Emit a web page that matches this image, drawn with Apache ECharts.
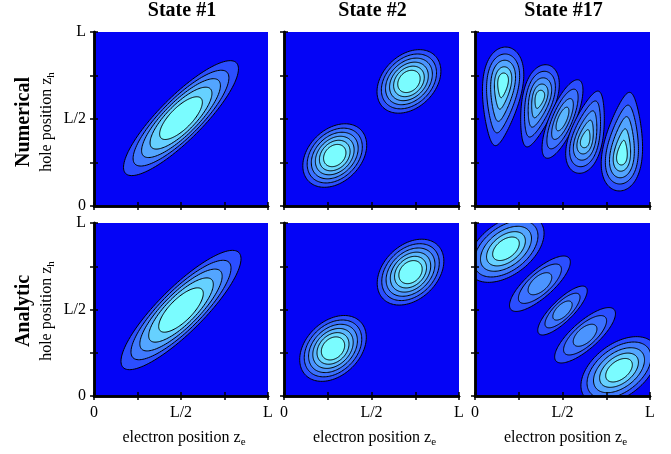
<!DOCTYPE html>
<html>
<head>
<meta charset="utf-8">
<script src="https://cdn.jsdelivr.net/npm/echarts/dist/echarts.min.js"></script>
<style>
  html, body { margin: 0; padding: 0; background: #fff; }
  #chart { width: 671px; height: 454px; }
</style>
</head>
<body>
<div id="chart"></div>
<script>
// titles and tick labels
var stateTitles = ['State #1', 'State #2', 'State #17'];
var rowTitles = ['Numerical', 'Analytic'];
var tickValues = [0, 0.5, 1];
var tickLabels = ['0', 'L/2', 'L'];

// ring sizes (major, minor) relative to the outer contour, outermost first
var ringsS1 = [[1, 1], [0.83, 0.88], [0.68, 0.76], [0.53, 0.64], [0.36, 0.5]];
var ringsS2 = [[1, 1], [0.86, 0.87], [0.73, 0.74], [0.6, 0.62], [0.47, 0.5], [0.34, 0.37]];
var ringsEnd = [[1, 1], [0.8, 0.8], [0.62, 0.6], [0.43, 0.42], [0.25, 0.26]];
var ringsMid = [[1, 1], [0.8, 0.8], [0.6, 0.61], [0.41, 0.43], [0.22, 0.26]];
var ringsCtr = [[1, 1], [0.76, 0.77], [0.52, 0.55], [0.3, 0.34]];
var ringsCorner = [[1, 1], [0.84, 0.84], [0.67, 0.67], [0.51, 0.51], [0.35, 0.35]];
var ringsSide = [[1, 1], [0.7, 0.78], [0.37, 0.55]];

// contour blobs, in units of L:
// [cx, cy, semi-major, semi-minor, angle(deg), egg, ring shift, rings, top level]
var numState1 = [
    [0.50, 0.505, 0.45, 0.125, 45, 0, 0, ringsS1, 5]
];
var numState2 = [
    [0.29, 0.29, 0.21, 0.15, 45, 0, 0, ringsS2, 5],
    [0.714, 0.716, 0.21, 0.15, 45, 0, 0, ringsS2, 5]
];
var numState17 = [
    [0.15, 0.63, 0.285, 0.108, 83, 0.4, 0.085, ringsEnd, 5],
    [0.357, 0.575, 0.243, 0.093, 75, 0.35, 0.05, ringsMid, 4],
    [0.50, 0.50, 0.243, 0.074, 67, 0, 0, ringsCtr, 3],
    [0.643, 0.425, 0.243, 0.093, 75, -0.35, -0.05, ringsMid, 4],
    [0.85, 0.37, 0.285, 0.108, 83, -0.4, -0.085, ringsEnd, 5]
];
var anaState1 = [
    [0.50, 0.497, 0.47, 0.13, 45, 0, 0, ringsS1, 5]
];
var anaState2 = [
    [0.28, 0.275, 0.22, 0.155, 45, 0, 0, ringsS2, 5],
    [0.723, 0.716, 0.22, 0.155, 45, 0, 0, ringsS2, 5]
];
var anaState17 = [
    [0.177, 0.851, 0.25, 0.15, 38, 0, 0, ringsCorner, 5],
    [0.371, 0.649, 0.223, 0.078, 42, 0, 0, ringsSide, 2],
    [0.50, 0.494, 0.19, 0.062, 45, 0, 0, ringsSide, 2],
    [0.629, 0.351, 0.223, 0.078, 42, 0, 0, ringsSide, 2],
    [0.823, 0.149, 0.25, 0.15, 38, 0, 0, ringsCorner, 5]
];
var panels = [numState1, numState2, numState17, anaState1, anaState2, anaState17];

var bgBlue = '#0404f6';
var lowColor = [43, 78, 255];
var highColor = [122, 252, 255];
var serif = '"Liberation Serif", "Times New Roman", serif';

var colLeft = [94, 284, 475];
var colWidth = [174, 175, 175];
var rowTop = [32, 223];
var rowHeight = [174, 173];

function levelColor(k) {
    var f = k / 5;
    var c = [];
    for (var i = 0; i < 3; i++) {
        c.push(Math.round(lowColor[i] + (highColor[i] - lowColor[i]) * f));
    }
    return 'rgb(' + c.join(',') + ')';
}

function tickFmt(v) {
    var i = tickValues.indexOf(v);
    return i < 0 ? '' : tickLabels[i];
}

function makeSeries(p, blobs) {
    var items = [];
    blobs.forEach(function (b, bi) {
        b[7].forEach(function (s, ri) { items.push([bi, ri]); });
    });
    return {
        type: 'custom', xAxisIndex: 2 * p, yAxisIndex: 2 * p,
        data: items, clip: true, silent: true, z: 2,
        renderItem: function (params, api) {
            var bl = blobs[api.value(0)], ri = api.value(1);
            var cx = bl[0], cy = bl[1], a = bl[2], b = bl[3];
            var th = bl[4] * Math.PI / 180, egg = bl[5], shift = bl[6];
            var rings = bl[7], top = bl[8];
            var sa = rings[ri][0], sb = rings[ri][1];
            var c = Math.cos(th), s = Math.sin(th);
            var ox = cx + shift * (1 - sa) * c, oy = cy + shift * (1 - sa) * s;
            var pts = [];
            for (var k = 0; k < 120; k++) {
                var t = k / 120 * 2 * Math.PI;
                var u = sa * a * Math.cos(t);
                var v = sb * b * Math.sin(t) * (1 + egg * Math.cos(t));
                pts.push(api.coord([ox + u * c - v * s, oy + u * s + v * c]));
            }
            var col = rings.length > 1 ? top * ri / (rings.length - 1) : 0;
            return {
                type: 'polygon', shape: { points: pts },
                style: { fill: levelColor(col), stroke: '#000', lineWidth: 1 }
            };
        }
    };
}

var grids = [], xAxes = [], yAxes = [], series = [], graphics = [];

for (var p = 0; p < 6; p++) {
    var r = Math.floor(p / 3), c = p % 3;
    grids.push({
        left: colLeft[c], top: rowTop[r], width: colWidth[c], height: rowHeight[r],
        show: true, backgroundColor: bgBlue, borderWidth: 0
    });
    var tick = { show: true, inside: true, length: 4, lineStyle: { color: '#000', width: 1.5 } };
    var line = { show: true, lineStyle: { color: '#000', width: 2.5 } };
    var lbl = { fontFamily: serif, fontSize: 16, color: '#000', formatter: tickFmt, showMinLabel: true, showMaxLabel: true };
    xAxes.push({
        type: 'value', gridIndex: p, min: 0, max: 1, interval: 0.25, position: 'bottom', z: 10,
        axisLine: line, axisTick: tick, splitLine: { show: false },
        axisLabel: Object.assign({ show: r === 1, margin: 9 }, lbl)
    });
    xAxes.push({
        type: 'value', gridIndex: p, min: 0, max: 1, interval: 0.25, position: 'top', z: 10,
        axisLine: line, axisTick: tick, splitLine: { show: false }, axisLabel: { show: false }
    });
    yAxes.push({
        type: 'value', gridIndex: p, min: 0, max: 1, interval: 0.25, position: 'left', z: 10,
        axisLine: line, axisTick: tick, splitLine: { show: false },
        axisLabel: Object.assign({ show: c === 0, margin: 8 }, lbl)
    });
    yAxes.push({
        type: 'value', gridIndex: p, min: 0, max: 1, interval: 0.25, position: 'right', z: 10,
        axisLine: line, axisTick: tick, splitLine: { show: false }, axisLabel: { show: false }
    });
    series.push(makeSeries(p, panels[p]));
}

var subRich = {
    m: { fontFamily: serif, fontSize: 16, fill: '#000', lineHeight: 20, verticalAlign: 'middle' },
    s: { fontFamily: serif, fontSize: 11, fill: '#000', lineHeight: 13, verticalAlign: 'bottom' }
};

// column titles and x axis names
for (var c = 0; c < 3; c++) {
    graphics.push({
        type: 'text', x: colLeft[c] + colWidth[c] / 2 + 1, y: 11,
        style: { text: stateTitles[c], font: 'bold 20px ' + serif, fill: '#000', align: 'center', verticalAlign: 'middle' }
    });
    graphics.push({
        type: 'text', x: colLeft[c] + colWidth[c] / 2 + 3, y: 438,
        style: { text: '{m|electron position z}{s|e}', align: 'center', verticalAlign: 'middle', rich: subRich }
    });
}
// row titles and y axis names
var rowMid = [122, 311];
for (var r = 0; r < 2; r++) {
    graphics.push({
        type: 'text', x: 24, y: rowMid[r], rotation: Math.PI / 2,
        style: { text: rowTitles[r], font: 'bold 20px ' + serif, fill: '#000', align: 'center', verticalAlign: 'middle' }
    });
    graphics.push({
        type: 'text', x: 47, y: rowMid[r], rotation: Math.PI / 2,
        style: { text: '{m|hole position z}{s|h}', align: 'center', verticalAlign: 'middle', rich: subRich }
    });
}

var chart = echarts.init(document.getElementById('chart'), null, { renderer: 'canvas' });
chart.setOption({
    animation: false,
    backgroundColor: '#fff',
    grid: grids,
    xAxis: xAxes,
    yAxis: yAxes,
    series: series,
    graphic: graphics
});
</script>
</body>
</html>
